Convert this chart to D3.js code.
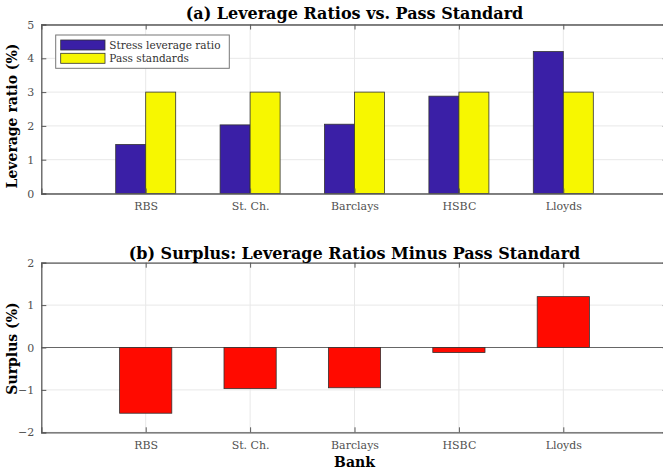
<!DOCTYPE html>
<html>
<head>
<meta charset="utf-8">
<script src="https://cdn.jsdelivr.net/npm/d3@7"></script>
<style>
  body { margin: 0; background: #fff; }
  svg { display: block; }
  text { font-family: "DejaVu Serif", serif; }
</style>
</head>
<body>
<svg id="chart" width="663" height="470"></svg>
<script>
// data
const banks = ["RBS", "St. Ch.", "Barclays", "HSBC", "Lloyds"];
const stressRatio = [1.45, 2.03, 2.05, 2.88, 4.2];
const passStandard = [3, 3, 3, 3, 3];
const surplus = [-1.55, -0.97, -0.95, -0.12, 1.2];
const topTicks = [0, 1, 2, 3, 4, 5];
const bottomTicks = [-2, -1, 0, 1, 2];
const seriesNames = ["Stress leverage ratio", "Pass standards"];
const seriesColors = ["#3a1fa6", "#f7f700"];

const svg = d3.select("#chart");

const left = 41.3, right = 667.7;
const axisColor = "#5a5a5a", gridColor = "#e8e8e8";

// categories sit at 1..5 on a 0..6 axis, like matlab's bar()
const x = d3.scalePoint()
    .domain(banks)
    .range([left, right])
    .padding(1);

function drawFrame(g, y, ticks, top, bottom) {
    // grid
    g.append("g").selectAll("line")
        .data(ticks)
        .join("line")
        .attr("x1", left).attr("x2", right)
        .attr("y1", d => y(d)).attr("y2", d => y(d))
        .attr("stroke", gridColor);
    g.append("g").selectAll("line")
        .data(banks)
        .join("line")
        .attr("x1", d => x(d)).attr("x2", d => x(d))
        .attr("y1", top).attr("y2", bottom)
        .attr("stroke", gridColor);
}

function drawAxes(g, y, ticks, top, bottom) {
    // left axis, ticks inward
    const ya = g.append("g")
        .attr("transform", `translate(${left},0)`)
        .call(d3.axisLeft(y).tickValues(ticks).tickSize(-5).tickPadding(7).tickFormat(d3.format("d")));
    ya.select(".domain").attr("stroke", axisColor).attr("stroke-width", 1.3);
    ya.selectAll(".tick line").attr("stroke", axisColor);
    ya.selectAll(".tick text").attr("fill", "#505050").style("font-size", "11px")
        .style("font-family", "'DejaVu Serif', serif");

    // right mirror ticks
    const yr = g.append("g")
        .attr("transform", `translate(${right},0)`)
        .call(d3.axisRight(y).tickValues(ticks).tickSize(-5).tickFormat(""));
    yr.select(".domain").attr("stroke", axisColor);
    yr.selectAll(".tick line").attr("stroke", axisColor);

    // bottom axis
    const xa = g.append("g")
        .attr("transform", `translate(0,${bottom})`)
        .call(d3.axisBottom(x).tickSize(-5).tickPadding(9));
    xa.select(".domain").attr("stroke", axisColor).attr("stroke-width", 1.3);
    xa.selectAll(".tick line").attr("stroke", axisColor);
    xa.selectAll(".tick text").attr("fill", "#505050").style("font-size", "11px")
        .style("font-family", "'DejaVu Serif', serif");

    // top mirror
    const xt = g.append("g")
        .attr("transform", `translate(0,${top})`)
        .call(d3.axisTop(x).tickSize(-5).tickFormat(""));
    xt.select(".domain").attr("stroke", axisColor).attr("stroke-width", 1.3);
    xt.selectAll(".tick line").attr("stroke", axisColor);
}

// ---------- (a) leverage ratios ----------
const topA = 24.5, bottomA = 193.5;
const yA = d3.scaleLinear().domain([0, 5]).range([bottomA, topA]);
const gA = svg.append("g");
drawFrame(gA, yA, topTicks, topA, bottomA);

const inner = d3.scaleBand().domain([0, 1]).range([-30, 30]);
const rows = banks.map((b, i) => ({ bank: b, vals: [stressRatio[i], passStandard[i]] }));

gA.append("g").selectAll("g")
    .data(rows)
    .join("g")
    .attr("transform", d => `translate(${x(d.bank)},0)`)
    .selectAll("rect")
    .data(d => d.vals.map((v, k) => ({ k, v })))
    .join("rect")
    .attr("x", d => inner(d.k))
    .attr("width", inner.bandwidth())
    .attr("y", d => yA(d.v))
    .attr("height", d => yA(0) - yA(d.v))
    .attr("fill", d => seriesColors[d.k])
    .attr("stroke", "#333")
    .attr("stroke-width", 0.8);

drawAxes(gA, yA, topTicks, topA, bottomA);

// legend
const leg = gA.append("g").attr("transform", "translate(55.7,35)");
leg.append("rect")
    .attr("width", 173.6).attr("height", 33.3)
    .attr("fill", "#fff").attr("stroke", "#777").attr("stroke-width", 1);
seriesNames.forEach((name, k) => {
    leg.append("rect")
        .attr("x", 5).attr("y", 5 + k * 13.3)
        .attr("width", 44.3).attr("height", 10)
        .attr("fill", seriesColors[k]).attr("stroke", "#333").attr("stroke-width", 0.8);
    leg.append("text")
        .attr("x", 53.6).attr("y", 14 + k * 13.3)
        .style("font-size", "10.5px").attr("fill", "#333")
        .text(name);
});

svg.append("text")
    .attr("x", (left + right) / 2).attr("y", 19)
    .attr("text-anchor", "middle")
    .style("font-size", "16px").style("font-weight", "bold")
    .text("(a) Leverage Ratios vs. Pass Standard");

svg.append("text")
    .attr("transform", `translate(17,116) rotate(-90)`)
    .attr("text-anchor", "middle")
    .style("font-size", "14px").style("font-weight", "bold")
    .text("Leverage ratio (%)");

// ---------- (b) surplus ----------
const topB = 262.7, bottomB = 432.3;
const yB = d3.scaleLinear().domain([-2, 2]).range([bottomB, topB]);
const gB = svg.append("g");
drawFrame(gB, yB, bottomTicks, topB, bottomB);

gB.append("line")
    .attr("x1", left).attr("x2", right)
    .attr("y1", yB(0)).attr("y2", yB(0))
    .attr("stroke", "#666").attr("stroke-width", 1.2);

const barW = x.step() * 0.5;
gB.append("g").selectAll("rect")
    .data(banks.map((b, i) => ({ bank: b, v: surplus[i] })))
    .join("rect")
    .attr("x", d => x(d.bank) - barW / 2)
    .attr("width", barW)
    .attr("y", d => yB(Math.max(0, d.v)))
    .attr("height", d => Math.abs(yB(d.v) - yB(0)))
    .attr("fill", "#ff0a00")
    .attr("stroke", "#333")
    .attr("stroke-width", 0.8);

drawAxes(gB, yB, bottomTicks, topB, bottomB);

svg.append("text")
    .attr("x", (left + right) / 2).attr("y", 258.5)
    .attr("text-anchor", "middle")
    .style("font-size", "16px").style("font-weight", "bold")
    .text("(b) Surplus: Leverage Ratios Minus Pass Standard");

svg.append("text")
    .attr("transform", `translate(17,348.5) rotate(-90)`)
    .attr("text-anchor", "middle")
    .style("font-size", "14px").style("font-weight", "bold")
    .text("Surplus (%)");

svg.append("text")
    .attr("x", (left + right) / 2).attr("y", 467)
    .attr("text-anchor", "middle")
    .style("font-size", "14px").style("font-weight", "bold")
    .text("Bank");
</script>
</body>
</html>
